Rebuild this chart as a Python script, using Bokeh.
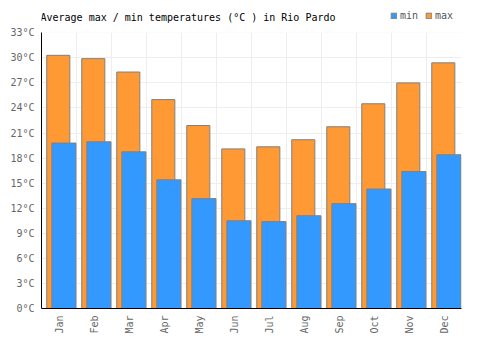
from bokeh.plotting import figure
from bokeh.models import FixedTicker, Legend, LegendItem, ColumnDataSource, BoxAnnotation, Label
from bokeh.embed import file_html
from bokeh.resources import INLINE
import math

months = ["Jan", "Feb", "Mar", "Apr", "May", "Jun", "Jul", "Aug", "Sep", "Oct", "Nov", "Dec"]
t_max = [30.3, 29.9, 28.3, 25.0, 21.9, 19.1, 19.35, 20.2, 21.75, 24.5, 27.0, 29.4]
t_min = [19.8, 19.95, 18.75, 15.4, 13.15, 10.5, 10.4, 11.1, 12.55, 14.3, 16.4, 18.4]
y_ticks = list(range(0, 34, 3))
title_text = "Average max / min temperatures (°C ) in Rio Pardo"

FONT = "DejaVu Sans Mono"
idx = list(range(len(months)))
y_top = y_ticks[-1]
src = ColumnDataSource(dict(
    xmax=[i + 0.48 for i in idx],
    xmin=[i + 0.64 for i in idx],
    tmax=t_max, tmin=t_min,
))

# frame extends up to the canvas top so title/legend can live inside it
p = figure(width=500, height=350, output_backend="svg", toolbar_location=None,
           x_range=(0, 12), y_range=(0, y_top * 308 / 275.75), title=None,
           min_border_left=41, min_border_right=39, min_border_top=0, min_border_bottom=42)

r_max = p.vbar(x="xmax", top="tmax", width=0.66, bottom=0, source=src,
               fill_color="#FF9933", line_color="#808080", line_width=1)
r_min = p.vbar(x="xmin", top="tmin", width=0.69, bottom=0, source=src,
               fill_color="#3399FF", line_color="#808080", line_width=1)

p.outline_line_color = None
p.background_fill_color = "white"

p.xaxis.ticker = FixedTicker(ticks=[i + 0.5 for i in idx])
p.xaxis.major_label_overrides = {i + 0.5: m for i, m in enumerate(months)}
p.xaxis.major_label_orientation = math.pi / 2
p.yaxis.ticker = FixedTicker(ticks=y_ticks)
p.yaxis.major_label_overrides = {t: f"{t}°C" for t in y_ticks}
p.yaxis.bounds = (0, y_top)
for ax in (p.xaxis[0], p.yaxis[0]):
    ax.axis_line_color = "#000000"
    ax.axis_line_width = 1
    ax.major_tick_line_color = None
    ax.minor_tick_line_color = None
    ax.major_tick_out = 0
    ax.major_tick_in = 0
    ax.major_label_text_font = FONT
    ax.major_label_text_font_size = "10px"
    ax.major_label_text_color = "#666666"
    ax.major_label_standoff = 7

p.xgrid.ticker = FixedTicker(ticks=list(range(13)))
p.xgrid.grid_line_color = "#eeeeee"
p.ygrid.grid_line_color = "#eeeeee"

# blank out the header strip above the top tick
p.add_layout(BoxAnnotation(bottom=y_top, fill_color="white", fill_alpha=1,
                           line_color=None, level="glyph"))

p.add_layout(Label(x=-1, y=291, x_units="screen", y_units="screen", text=title_text,
                   text_font=FONT, text_font_size="10px", text_color="#000000",
                   text_baseline="middle", level="overlay"))

legend = Legend(items=[LegendItem(label="min", renderers=[r_min]),
                       LegendItem(label="max", renderers=[r_max])],
                orientation="horizontal", location=(349, 287),
                glyph_width=7, glyph_height=7, label_height=10, label_width=10,
                label_standoff=3, spacing=7, padding=0, margin=0,
                border_line_color=None, background_fill_alpha=0,
                label_text_font=FONT, label_text_font_size="10px",
                label_text_color="#555555", level="overlay")
p.add_layout(legend, "center")

open("out.html", "w").write(file_html(p, INLINE))
